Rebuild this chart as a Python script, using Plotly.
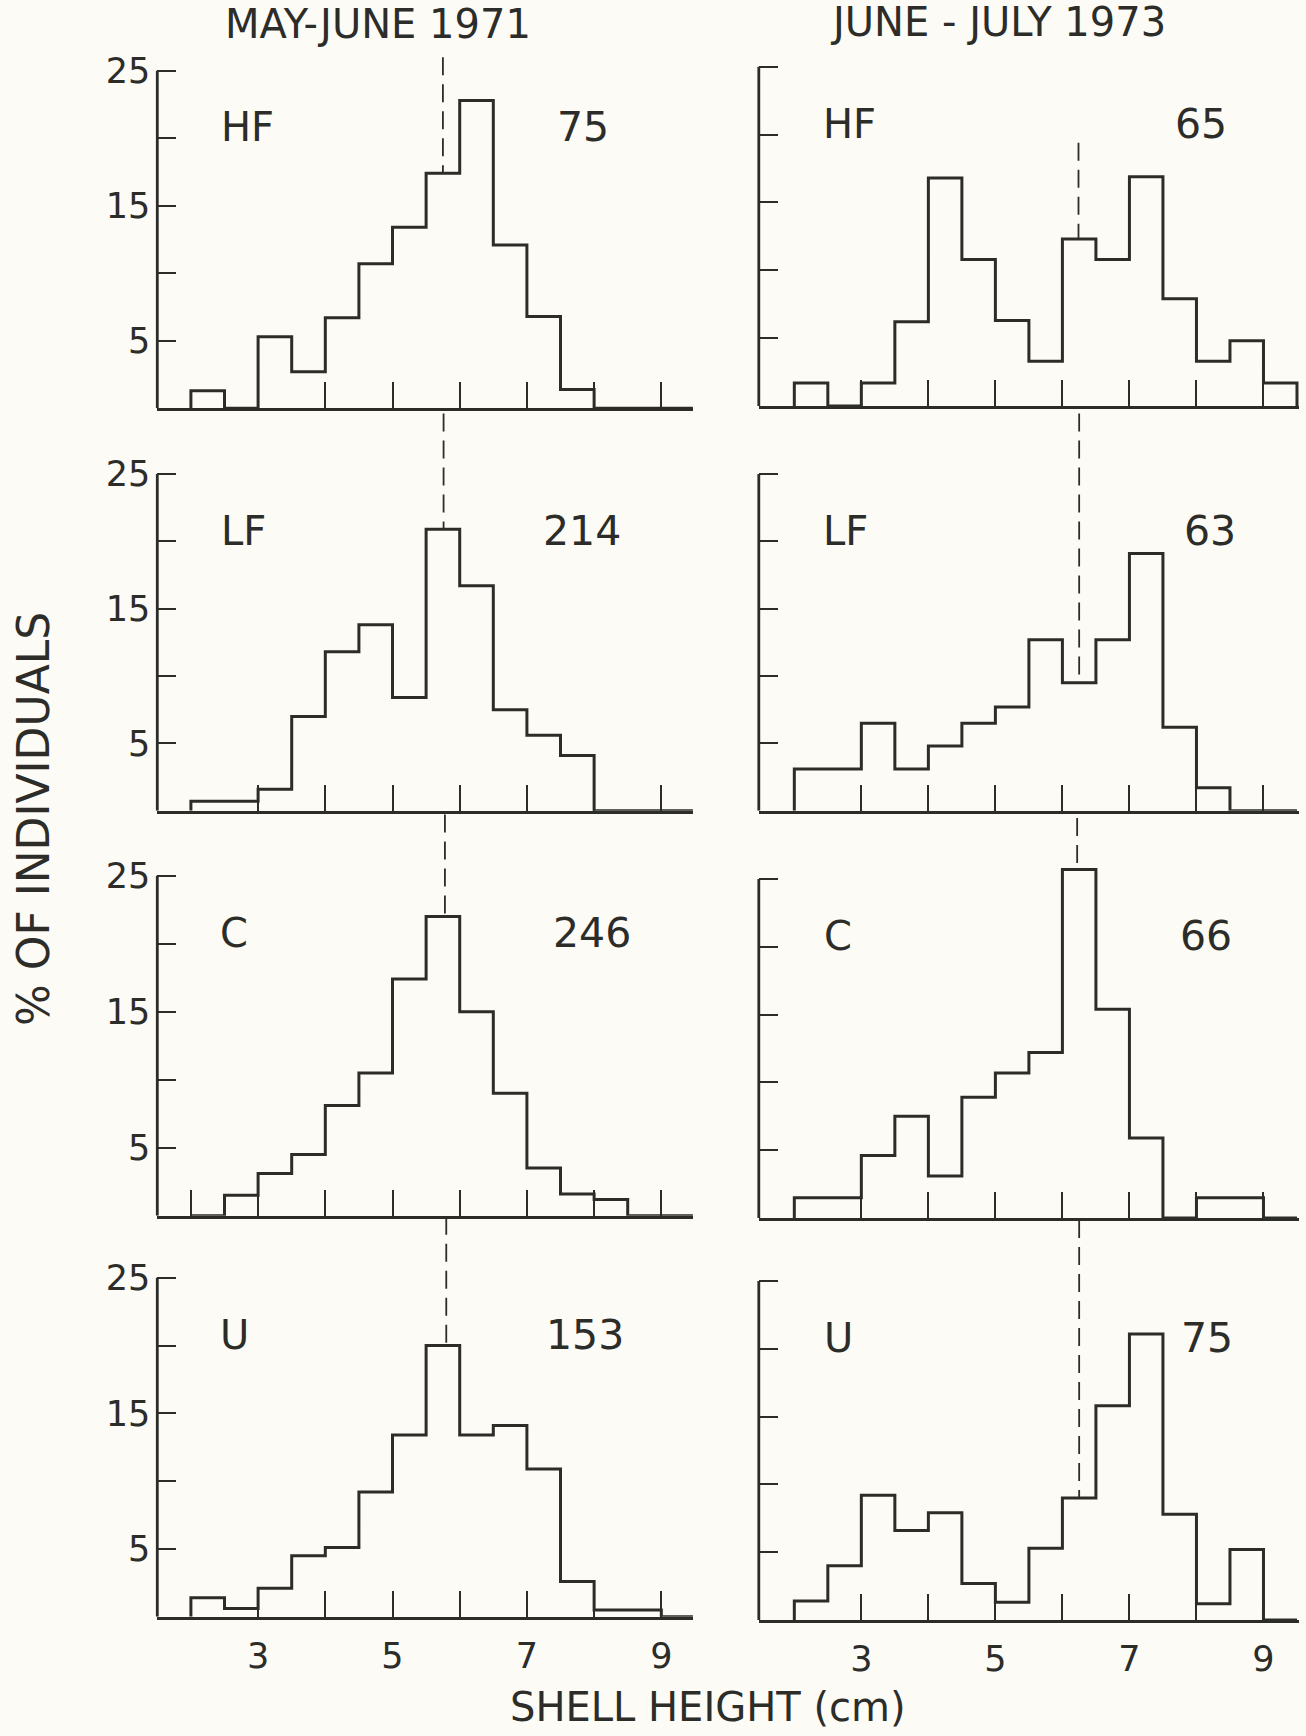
import plotly.graph_objects as go

# ---------------- data ----------------
BIN_EDGES = [2.0, 2.5, 3.0, 3.5, 4.0, 4.5, 5.0, 5.5, 6.0, 6.5, 7.0, 7.5, 8.0, 8.5, 9.0, 9.5]
SITES = ["HF", "LF", "C", "U"]
PERIODS = ["MAY-JUNE 1971", "JUNE - JULY 1973"]

# % of individuals per 0.5 cm shell-height class (bins 2.0-2.5 ... 9.0-9.5)
HF_1971 = [1.3, 0.0, 5.3, 2.7, 6.7, 10.7, 13.4, 17.4, 22.8, 12.1, 6.8, 1.4, 0.0, 0.0, 0.0]
LF_1971 = [0.7, 0.7, 1.6, 7.0, 11.8, 13.8, 8.4, 20.9, 16.7, 7.5, 5.6, 4.1, 0.0, 0.0, 0.0]
C_1971 = [0.0, 1.5, 3.1, 4.5, 8.1, 10.5, 17.4, 22.0, 15.0, 9.0, 3.5, 1.6, 1.2, 0.0, 0.0]
U_1971 = [1.4, 0.6, 2.1, 4.5, 5.1, 9.2, 13.4, 20.0, 13.4, 14.1, 10.9, 2.6, 0.5, 0.5, 0.0]

HF_1973 = [1.7, 0.0, 1.7, 6.2, 16.8, 10.8, 6.3, 3.3, 12.3, 10.8, 16.9, 7.9, 3.3, 4.8, 1.7]
LF_1973 = [3.1, 3.1, 6.5, 3.1, 4.8, 6.5, 7.7, 12.7, 9.5, 12.7, 19.1, 6.2, 1.7, 0.0, 0.0]
C_1973 = [1.5, 1.5, 4.6, 7.5, 3.1, 8.9, 10.7, 12.2, 25.7, 15.4, 5.9, 0.0, 1.5, 1.5, 0.0]
U_1973 = [1.4, 4.0, 9.2, 6.6, 7.9, 2.7, 1.3, 5.3, 9.0, 15.8, 21.1, 7.8, 1.2, 5.2, 0.0]

N_1971 = [75, 214, 246, 153]
N_1973 = [65, 63, 66, 75]
MEAN_1971 = [5.75, 5.76, 5.78, 5.80]
MEAN_1973 = [6.24, 6.25, 6.22, 6.25]

Y_TICKS = [5, 10, 15, 20, 25]
Y_TICK_TEXT = ["5", "", "15", "", "25"]
X_TICK_TEXT = {2: "", 3: "3", 4: "", 5: "5", 6: "", 7: "7", 8: "", 9: "9"}

VALUES = [[HF_1971, HF_1973], [LF_1971, LF_1973], [C_1971, C_1973], [U_1971, U_1973]]
COUNTS = [N_1971, N_1973]
MEANS = [MEAN_1971, MEAN_1973]

# ---------------- style / geometry ----------------
W, H = 1306, 1736
INK = "#2c2c29"
BG = "#fcfbf6"
FONT = "DejaVu Sans"

# column pixel geometry: (axis left px, axis right px, x range)
COLS = [
    (157.3, 692.9, [1.50, 9.47]),
    (758.8, 1299.0, [1.47, 9.53]),
]
# (y of 25% tick px, baseline px) per row / column
ROWS = [
    [(70.7, 408.3), (66.7, 406.0)],
    [(474.0, 810.7), (474.0, 810.7)],
    [(875.7, 1215.7), (879.0, 1218.0)],
    [(1277.7, 1616.7), (1281.0, 1620.0)],
]
Y_TOP = 29.6
DASH_TOP = [[26.0, 19.4], [29.5, 29.5], [29.5, 29.5], [29.5, 29.5]]
LABEL_X = [[2.42, 2.40], [2.42, 2.40], [2.40, 2.42], [2.40, 2.42]]
NUM_X = [[7.83, 8.07], [7.82, 8.2], [7.97, 8.14], [7.86, 8.15]]
LABEL_Y = 20.8
X_TICKS = [[[3, 4, 5, 6, 7, 8, 9], [3, 4, 5, 6, 7, 8, 9]],
           [[3, 4, 5, 6, 7, 8, 9], [3, 4, 5, 6, 7, 8, 9]],
           [[2, 3, 4, 5, 6, 7, 8, 9], [3, 4, 5, 6, 7, 8, 9]],
           [[3, 4, 5, 6, 7, 8, 9], [3, 4, 5, 6, 7, 8, 9]]]

fig = go.Figure()
layout = {}
shapes = []
annotations = []

for r in range(4):
    for c in range(2):
        k = r * 2 + c + 1
        xs = "" if k == 1 else str(k)
        xname, yname = "x" + xs, "y" + xs
        vals = VALUES[r][c]

        # step outline of the histogram
        fig.add_trace(go.Scatter(
            x=[BIN_EDGES[0]] + BIN_EDGES,
            y=[0] + vals + [0],
            mode="lines", line=dict(color=INK, width=3.0, shape="hv"),
            xaxis=xname, yaxis=yname, showlegend=False, hoverinfo="skip"))

        # dashed mean line from top down to the bar
        m = MEANS[c][r]
        bi = max(i for i in range(len(vals)) if BIN_EDGES[i] <= m)
        fig.add_trace(go.Scatter(
            x=[m, m], y=[DASH_TOP[r][c], vals[bi]],
            mode="lines", line=dict(color=INK, width=1.8, dash="18px,9px"),
            xaxis=xname, yaxis=yname, showlegend=False, hoverinfo="skip"))

        ax0, ax1, xr = COLS[c]
        t25, base = ROWS[r][c]
        pp = (base - t25) / 25.0
        top_px = base - Y_TOP * pp
        ydom = [1 - base / H, 1 - top_px / H]
        xdom = [ax0 / W, ax1 / W]

        bottom = (r == 3)
        tv = X_TICKS[r][c]
        layout["xaxis" + xs] = dict(
            domain=xdom, range=xr, anchor=yname,
            showline=True, linecolor=INK, linewidth=2.8,
            showgrid=False, zeroline=False,
            ticks="inside", ticklen=26, tickwidth=2.2, tickcolor=INK,
            tickvals=tv, ticktext=[X_TICK_TEXT[t] if bottom else "" for t in tv],
            showticklabels=bottom, ticklabelstandoff=6,
            tickfont=dict(family=FONT, size=35, color=INK),
        )
        layout["yaxis" + xs] = dict(
            domain=ydom, range=[0, Y_TOP], anchor=xname,
            showline=False, showgrid=False, zeroline=False,
            ticks="inside", ticklen=19, tickwidth=2.2, tickcolor=INK,
            tickvals=Y_TICKS, ticktext=Y_TICK_TEXT if c == 0 else [""] * 5,
            showticklabels=(c == 0), ticklabelstandoff=6,
            tickfont=dict(family=FONT, size=35, color=INK),
        )
        # y axis line spanning 0-25 only
        shapes.append(dict(type="line", xref=xname + " domain", x0=0, x1=0,
                           yref=yname, y0=0, y1=Y_TICKS[-1],
                           line=dict(color=INK, width=2.8)))

        annotations.append(dict(x=LABEL_X[r][c], y=LABEL_Y, xref=xname, yref=yname,
                                text=SITES[r], showarrow=False, xanchor="left", yanchor="middle",
                                font=dict(family=FONT, size=40, color=INK)))
        annotations.append(dict(x=NUM_X[r][c], y=LABEL_Y, xref=xname, yref=yname,
                                text=str(COUNTS[c][r]), showarrow=False, xanchor="center",
                                yanchor="middle", font=dict(family=FONT, size=41, color=INK)))

# column titles
annotations.append(dict(x=378 / W, y=1 - 24 / H, xref="paper", yref="paper", text=PERIODS[0],
                        showarrow=False, xanchor="center", yanchor="middle",
                        font=dict(family=FONT, size=40, color=INK)))
annotations.append(dict(x=998 / W, y=1 - 22 / H, xref="paper", yref="paper", text=PERIODS[1],
                        showarrow=False, xanchor="center", yanchor="middle",
                        font=dict(family=FONT, size=40, color=INK)))
# axis titles
annotations.append(dict(x=33 / W, y=1 - 819 / H, xref="paper", yref="paper", text="% OF INDIVIDUALS",
                        showarrow=False, textangle=-90, xanchor="center", yanchor="middle",
                        font=dict(family=FONT, size=44, color=INK)))
annotations.append(dict(x=708 / W, y=1 - 1707 / H, xref="paper", yref="paper", text="SHELL HEIGHT (cm)",
                        showarrow=False, xanchor="center", yanchor="middle",
                        font=dict(family=FONT, size=40, color=INK)))

fig.update_layout(
    width=W, height=H, autosize=False,
    margin=dict(l=0, r=0, t=0, b=0),
    paper_bgcolor=BG, plot_bgcolor="rgba(0,0,0,0)",
    shapes=shapes, annotations=annotations, showlegend=False,
    **layout,
)

fig.write_html("out.html", config={"displayModeBar": False},
               post_script="document.body.style.margin='0px';document.body.style.background='" + BG + "';")
